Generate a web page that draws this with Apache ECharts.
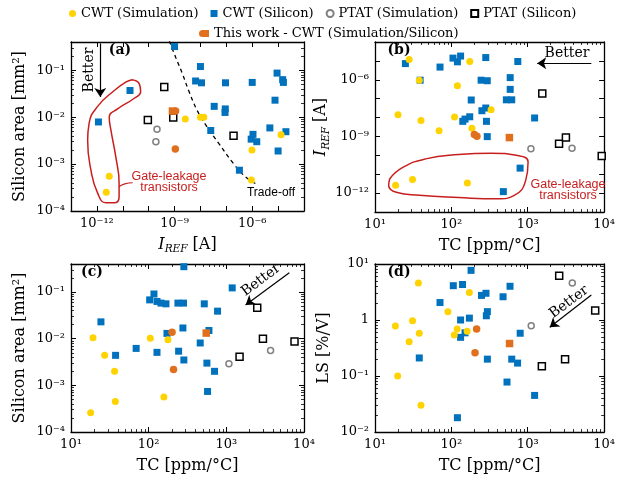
<!DOCTYPE html>
<html><head><meta charset="utf-8">
<script src="https://cdn.jsdelivr.net/npm/echarts@6/dist/echarts.min.js"></script>
<style>html,body{margin:0;padding:0;background:#fff}#c{width:618px;height:484px}</style>
</head><body><div id="c"></div>
<script>
// ---------- Panel (a): [I_REF (A), Silicon area (mm^2)] ----------
const A_CWT_SIM = [[3.0e-12,5.5e-4],[2.3e-12,2.5e-4],[2.6e-9,0.0091],[1.0e-8,0.010],[1.35e-8,0.010],[9.8e-7,0.0020],[9.3e-7,4.6e-4],[1.3e-5,0.0042]];
const A_CWT_SI = [[1.0e-9,0.32],[1.0e-8,0.12],[6.5e-9,0.059],[1.1e-8,0.054],[9.3e-8,0.054],[1.0e-6,0.055],[9.1e-6,0.087],[1.5e-5,0.063],[1.6e-5,0.055],[7.6e-6,0.023],[3.4e-8,0.017],[9.1e-8,0.015],[8.9e-8,0.0126],[1.9e-11,0.037],[1.15e-12,0.0079],[2.5e-8,0.0052],[1.07e-6,0.0043],[9.1e-7,0.0034],[1.5e-6,0.0030],[4.8e-6,0.0059],[2.0e-5,0.0049],[1.0e-5,0.0019],[3.2e-7,0.00074]];
const A_PTAT_SIM = [[2.1e-10,0.0055],[1.9e-10,0.0030]];
const A_PTAT_SI = [[4.0e-10,0.044],[9.3e-11,0.0087],[8.9e-10,0.0098],[1.9e-7,0.0040]];
const A_THIS_SIM = [[1.1e-9,0.0135],[1.07e-9,0.0021]];
const A_THIS_SI = [[8.3e-10,0.0135]];
const A_TRADE_OFF = [[6.3e-10,0.42],[1.1e-9,0.19],[2.0e-9,0.085],[3.5e-9,0.037],[7.4e-9,0.014],[1.8e-8,0.0062],[5.0e-8,0.0028],[1.9e-7,0.00102],[5.4e-7,0.00054],[1.5e-6,0.00037]];
const A_LOOP = [[2.3e-11,0.063],[4.3e-11,0.052],[4.9e-11,0.035],[2.7e-11,0.025],[6.3e-12,0.015],[3.0e-12,0.010],[3.5e-12,0.0052],[5.4e-12,0.0014],[7.2e-12,0.00039],[7.2e-12,0.0002],[4.7e-12,0.00015],[2.2e-12,0.00015],[1.07e-12,0.00024],[5.9e-13,0.00074],[4.4e-13,0.0032],[5.0e-13,0.0074],[1.07e-12,0.017],[4.7e-12,0.037],[1.3e-11,0.056],[2.3e-11,0.063]];
const A_LOOP_LINK = [[7.1e-12,3.3e-4],[1.2e-11,3.8e-4],[2.4e-11,4.0e-4]];
const A_ARROW = [[1.35e-12,0.37],[1.35e-12,0.027]];
const A_X_LABELS = [1e-12,1e-9,1e-6];
const A_Y_LABELS = [1e-4,1e-3,1e-2,1e-1];

// ---------- Panel (b): [TC (ppm/°C), I_REF (A)] ----------
const B_CWT_SIM = [[28,1.2e-5],[38,9.5e-7],[174,9.3e-6],[120,4.8e-7],[331,2.6e-8],[20,1.4e-8],[40,6.9e-9],[110,1.07e-8],[69,2.0e-9],[186,2.7e-9],[18.6,2.6e-12],[31,5.2e-12],[162,3.4e-12]];
const B_CWT_SI = [[25,7.2e-6],[39,9.5e-7],[71,4.7e-6],[105,1.4e-5],[120,8.9e-6],[132,1.8e-5],[282,1.5e-5],[245,9.5e-7],[295,8.9e-7],[741,9.3e-6],[589,1.3e-6],[589,3.1e-7],[525,8.7e-8],[617,8.7e-8],[182,8.5e-8],[282,3.2e-8],[251,2.3e-8],[174,1.1e-8],[151,8.3e-9],[141,6.3e-9],[288,6.3e-9],[1230,9.5e-9],[295,9.8e-10],[794,2.1e-11],[479,1.2e-12]];
const B_PTAT_SIM = [[1100,2.2e-10],[3800,2.4e-10]];
const B_PTAT_SI = [[1550,1.9e-7],[2570,4.1e-10],[3160,8.7e-10],[9300,9.3e-11]];
const B_THIS_SIM = [[200,1.26e-9],[216,1.02e-9]];
const B_THIS_SI = [[575,8.7e-10]];
const B_LOOP = [[15.6,5.8e-12],[23.1,2.3e-11],[46,6.5e-11],[124,1.1e-10],[333,1.3e-10],[735,9.8e-11],[1010,4.4e-11],[940,4.7e-12],[667,7.6e-13],[406,5.0e-13],[124,5.8e-13],[38,7.6e-13],[19,1.1e-12],[15.1,2.6e-12],[15.6,5.8e-12]];
const B_ARROW = [[6800,7.4e-6],[1330,7.4e-6]];
const B_X_LABELS = [10,100,1000,10000];
const B_Y_LABELS = [1e-12,1e-9,1e-6];

// ---------- Panel (c): [TC (ppm/°C), Silicon area (mm^2)] ----------
const C_CWT_SIM = [[19.2,0.0105],[105,0.0102],[177,0.0095],[27.1,0.0044],[36.4,0.0020],[37.2,0.00045],[157,0.00056],[17.9,0.00026]];
const C_CWT_SI = [[284,0.35],[1190,0.123],[117,0.091],[103,0.068],[128,0.063],[144,0.058],[167,0.056],[238,0.058],[281,0.058],[520,0.056],[771,0.039],[24.3,0.023],[276,0.017],[597,0.015],[172,0.013],[461,0.0081],[69,0.0062],[128,0.0051],[243,0.0054],[284,0.0035],[37.5,0.0044],[562,0.0030],[705,0.0020],[573,0.00074]];
const C_PTAT_SIM = [[1080,0.0029],[3710,0.0056]];
const C_PTAT_SI = [[2500,0.046],[2960,0.010],[7550,0.0087],[1480,0.0041]];
const C_THIS_SIM = [[200,0.0138],[209,0.0022]];
const C_THIS_SI = [[551,0.0132]];
const C_ARROW = [[6470,0.26],[1770,0.053]];
const C_X_LABELS = [10,100,1000,10000];
const C_Y_LABELS = [1e-4,1e-3,1e-2,1e-1];

// ---------- Panel (d): [TC (ppm/°C), LS (%/V)] ----------
const D_CWT_SIM = [[37,4.6],[172,3.1],[90,1.40],[31,0.97],[18.5,0.78],[38,0.58],[28,0.41],[119,0.69],[109,0.54],[161,0.63],[19.8,0.10],[40,0.030]];
const D_CWT_SI = [[181,7.7],[106,4.1],[140,4.3],[71,2.05],[284,3.0],[248,2.75],[586,4.0],[475,2.6],[296,1.41],[287,1.19],[132,1.0],[172,1.08],[151,0.59],[132,0.49],[796,0.58],[38,0.21],[296,0.20],[617,0.20],[736,0.17],[535,0.078],[1230,0.045],[120,0.018]];
const D_PTAT_SIM = [[3830,4.6],[1110,0.79]];
const D_PTAT_SI = [[2580,6.2],[7640,1.48],[3080,0.20],[1530,0.15]];
const D_THIS_SIM = [[214,0.69],[204,0.26]];
const D_THIS_SI = [[578,0.38]];
const D_ARROW = [[6800,2.8],[1940,0.74]];
const D_X_LABELS = [10,100,1000,10000];
const D_Y_LABELS = [0.01,0.1,1,10];

// ---------- helpers ----------
const SERIF = '"DejaVu Serif", serif';
const SUPMAP = {'-':'\u207B','0':'\u2070','1':'\u00B9','2':'\u00B2','3':'\u00B3','4':'\u2074','5':'\u2075','6':'\u2076','7':'\u2077','8':'\u2078','9':'\u2079'};
const L10 = v => Math.log10(v);
const tr = arr => arr.map(p => [L10(p[0]), L10(p[1])]);
function powLabel(v){ const e = Math.round(v); if (e === 0) return '1'; return '10' + String(e).split('').map(c => SUPMAP[c]).join(''); }
function decades(lo, hi){ const r=[]; for(let e=Math.ceil(lo-1e-9); e<=Math.floor(hi+1e-9); e++) r.push(e); return r; }
function minors(lo, hi){ const r=[]; for(let n=Math.floor(lo); n<Math.ceil(hi); n++){ for(let k=2;k<=9;k++){ const v=n+Math.log10(k); if(v>lo+1e-6 && v<hi-1e-6) r.push(v);} } return r; }

const COL = {sim:'#FFD300', si:'#0072BD', ptatSim:'#808080', ptatSi:'#000000', ours:'#E0701E', red:'#C81E1E'};
const NAMES = {sim:'CWT (Simulation)', si:'CWT (Silicon)', ptatSim:'PTAT (Simulation)', ptatSi:'PTAT (Silicon)', oursSim:'This work (Simulation)', oursSi:'This work - CWT (Simulation/Silicon)'};

const IREF_NAME = '{i|I}{s|REF} [A]';
const nameStyle = {fontFamily:SERIF, fontSize:16, color:'#000', lineHeight:20,
  rich:{i:{fontFamily:SERIF, fontStyle:'italic', fontSize:16, lineHeight:20, color:'#000'},
        s:{fontFamily:SERIF, fontStyle:'italic', fontSize:10.5, lineHeight:8, verticalAlign:'bottom', color:'#000'}}};

const PANELS = [
  {grid:{left:71, top:42, width:233, height:169}, xr:[1e-13,1e-4], yr:[1e-4,0.4], xMinor:false, yMinor:true, xLab:A_X_LABELS, yLab:A_Y_LABELS, xName:IREF_NAME, yName:'Silicon area [mm\u00B2]',
   groups:[A_CWT_SI, A_CWT_SIM, A_PTAT_SIM, A_PTAT_SI, A_THIS_SIM, A_THIS_SI], arrow:A_ARROW},
  {grid:{left:375, top:42, width:233, height:170}, xr:[10,1e4], yr:[1e-13,1e-4], xMinor:true, yMinor:false, xLab:B_X_LABELS, yLab:B_Y_LABELS, xName:'TC [ppm/\u00B0C]', yName:IREF_NAME,
   groups:[B_CWT_SI, B_CWT_SIM, B_PTAT_SIM, B_PTAT_SI, B_THIS_SIM, B_THIS_SI], arrow:B_ARROW},
  {grid:{left:71, top:264, width:233, height:168}, xr:[10,1e4], yr:[1e-4,0.4], xMinor:true, yMinor:true, xLab:C_X_LABELS, yLab:C_Y_LABELS, xName:'TC [ppm/\u00B0C]', yName:'Silicon area [mm\u00B2]',
   groups:[C_CWT_SI, C_CWT_SIM, C_PTAT_SIM, C_PTAT_SI, C_THIS_SIM, C_THIS_SI], arrow:C_ARROW},
  {grid:{left:375, top:264, width:233, height:168}, xr:[10,1e4], yr:[0.01,10], xMinor:true, yMinor:true, xLab:D_X_LABELS, yLab:D_Y_LABELS, xName:'TC [ppm/\u00B0C]', yName:'LS [%/V]',
   groups:[D_CWT_SI, D_CWT_SIM, D_PTAT_SIM, D_PTAT_SI, D_THIS_SIM, D_THIS_SI], arrow:D_ARROW}
];

const LINE = {color:'#000', width:1.3};
const grids=[], xAxes=[], yAxes=[], series=[];

function axisSet(dim, g, lo, hi, useMinor, labs, name){
  const major = decades(lo, hi);
  const minor = useMinor ? minors(lo, hi) : [];
  const pos = dim==='x' ? ['bottom','top'] : ['left','right'];
  const out = [];
  pos.forEach((p, pi) => {
    const main = {gridIndex:g, type:'value', min:lo, max:hi, position:p, scale:true,
      axisLine:{show:true, onZero:false, lineStyle:LINE},
      axisTick:{show:true, inside:true, length:5, customValues:major, lineStyle:{color:'#000', width:1}},
      axisLabel:{show:pi===0, customValues:labs.map(L10), formatter:powLabel, margin:6, fontFamily:SERIF, fontSize:13, color:'#000'},
      splitLine:{show:false}};
    if (pi===0){
      main.name = name; main.nameLocation='middle'; main.nameTextStyle = nameStyle;
      if (dim==='x'){ main.nameGap = 24; } else { main.nameGap = 41; main.nameRotate = 90; }
    }
    out.push(main);
    out.push({gridIndex:g, type:'value', min:lo, max:hi, position:p, scale:true,
      axisLine:{show:false, onZero:false},
      axisTick:{show:minor.length>0, inside:true, length:3, customValues:minor.length?minor:[lo], lineStyle:{color:'#000', width:0.8}},
      axisLabel:{show:false}, splitLine:{show:false}});
  });
  return out;
}

const STY = [
  {name:NAMES.si, symbol:'rect', size:7, item:{color:COL.si}, z:2},
  {name:NAMES.sim, symbol:'circle', size:7, item:{color:COL.sim}, z:3},
  {name:NAMES.ptatSim, symbol:'circle', size:6, item:{color:'#fff', borderColor:COL.ptatSim, borderWidth:1.5}, z:4},
  {name:NAMES.ptatSi, symbol:'rect', size:7, item:{color:'#fff', borderColor:COL.ptatSi, borderWidth:1.5}, z:4},
  {name:NAMES.oursSim, symbol:'circle', size:7.5, item:{color:COL.ours}, z:5},
  {name:NAMES.oursSi, symbol:'rect', size:7.5, item:{color:COL.ours}, z:5}
];

PANELS.forEach((P, g) => {
  grids.push(Object.assign({containLabel:false}, P.grid));
  const xi = xAxes.length, yi = yAxes.length;
  xAxes.push(...axisSet('x', g, L10(P.xr[0]), L10(P.xr[1]), P.xMinor, P.xLab, P.xName));
  yAxes.push(...axisSet('y', g, L10(P.yr[0]), L10(P.yr[1]), P.yMinor, P.yLab, P.yName));
  P.xi = xi; P.yi = yi;
  P.groups.forEach((d, k) => {
    const s = STY[k];
    series.push({type:'scatter', name:s.name, xAxisIndex:xi, yAxisIndex:yi, data:tr(d), symbol:s.symbol, symbolSize:s.size,
      itemStyle:Object.assign({opacity:1}, s.item), z:s.z, clip:false, silent:true});
  });
  series.push({type:'lines', coordinateSystem:'cartesian2d', xAxisIndex:xi, yAxisIndex:yi,
    data:[{coords:tr(P.arrow)}], symbol:['none','arrow'], symbolSize:[0,9],
    lineStyle:{color:'#000', width:1.2, opacity:1}, z:6, silent:true});
});

// trade-off dashed curve (a)
series.push({type:'line', xAxisIndex:PANELS[0].xi, yAxisIndex:PANELS[0].yi, data:tr(A_TRADE_OFF), smooth:0.4, symbol:'none',
  lineStyle:{color:'#000', width:1.3, type:[4,3.5]}, z:1, silent:true, clip:true});
// gate-leakage loops
series.push({type:'line', xAxisIndex:PANELS[0].xi, yAxisIndex:PANELS[0].yi, data:tr(A_LOOP), smooth:0.5, symbol:'none',
  lineStyle:{color:COL.red, width:1.5}, z:1, silent:true});
series.push({type:'line', xAxisIndex:PANELS[0].xi, yAxisIndex:PANELS[0].yi, data:tr(A_LOOP_LINK), smooth:0.5, symbol:'none',
  lineStyle:{color:COL.red, width:1.2}, z:1, silent:true});
series.push({type:'line', xAxisIndex:PANELS[1].xi, yAxisIndex:PANELS[1].yi, data:tr(B_LOOP), smooth:0.5, symbol:'none',
  lineStyle:{color:COL.red, width:1.5}, z:1, silent:true});

function txt(text, x, y, font, opts){
  return Object.assign({type:'text', x:x, y:y, z:100,
    style:{text:text, font:font, fill:'#000', align:'center', verticalAlign:'middle'}}, opts||{});
}
const graphics = [
  txt('(a)', 120, 50, 'bold 14px "DejaVu Serif"'),
  txt('(b)', 399, 50, 'bold 14px "DejaVu Serif"'),
  txt('(c)', 92, 272, 'bold 14px "DejaVu Serif"'),
  txt('(d)', 399, 272, 'bold 14px "DejaVu Serif"'),
  txt('Better', 89, 70, '14px "DejaVu Serif"', {rotation:Math.PI/2}),
  txt('Better', 567, 53, '14px "DejaVu Serif"'),
  txt('Better', 261, 280, '14px "DejaVu Serif"', {rotation:0.64}),
  txt('Better', 569, 302, '14px "DejaVu Serif"', {rotation:0.64}),
  txt('Trade-off', 271, 193, '12px "Liberation Sans"'),
];
[[169,182],[568,190]].forEach(p => {
  graphics.push({type:'text', x:p[0], y:p[1], z:100, style:{text:'Gate-leakage\ntransistors', font:'12.5px "Liberation Sans"', fill:COL.red, align:'center', verticalAlign:'middle', lineHeight:11.5}});
});

const legendText = {fontFamily:SERIF, fontSize:13, color:'#000'};
const option = {
  animation:false,
  backgroundColor:'#fff',
  grid:grids, xAxis:xAxes, yAxis:yAxes, series:series, graphic:graphics,
  legend:[
    {left:69, top:7, padding:0, itemWidth:7, itemHeight:7, itemGap:12, textStyle:legendText, selectedMode:false,
     data:[{name:NAMES.sim, icon:'circle'},{name:NAMES.si, icon:'rect'},{name:NAMES.ptatSim, icon:'circle'},{name:NAMES.ptatSi, icon:'rect'}]},
    {left:199, top:27, padding:0, itemWidth:7, itemHeight:7, itemGap:-4, textStyle:legendText, selectedMode:false,
     formatter: n => n === NAMES.oursSim ? '' : n,
     data:[{name:NAMES.oursSim, icon:'circle'},{name:NAMES.oursSi, icon:'rect'}]}
  ]
};
const chart = echarts.init(document.getElementById('c'), null, {renderer:'canvas'});
chart.setOption(option);
</script></body></html>
